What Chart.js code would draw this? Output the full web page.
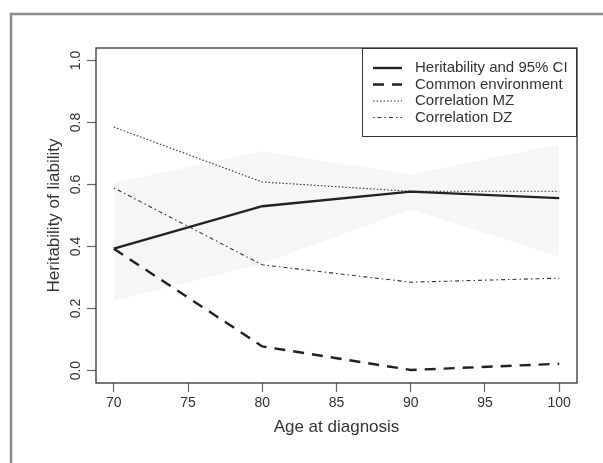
<!DOCTYPE html>
<html>
<head>
<meta charset="utf-8">
<script src="https://cdn.jsdelivr.net/npm/chart.js@4/dist/chart.umd.min.js"></script>
<style>
  body { margin: 0; background: #fff; }
  canvas { display: block; }
</style>
</head>
<body>
<canvas id="chart" width="603" height="463"></canvas>
<script>
// values
const ages = [70, 80, 90, 100];
const heritability = [0.393, 0.530, 0.577, 0.556];
const commonEnv = [0.393, 0.078, 0.002, 0.022];
const corrMZ = [0.785, 0.608, 0.578, 0.578];
const corrDZ = [0.589, 0.341, 0.285, 0.298];
const ciUpper = [0.605, 0.707, 0.632, 0.730];
const ciLower = [0.225, 0.345, 0.519, 0.368];

const xTicks = [70, 75, 80, 85, 90, 95, 100];
const yTicks = [0.0, 0.2, 0.4, 0.6, 0.8, 1.0];

const FONT = "'Liberation Sans', Arial, Helvetica, sans-serif";

function pts(ys) {
  return ages.map((a, i) => ({ x: a, y: ys[i] }));
}

const lineBase = { pointRadius: 0, tension: 0, fill: false };

// gray frame + plot box + rotated y labels + legend
const decor = {
  id: "decor",
  beforeDraw(chart) {
    const c = chart.ctx;
    c.save();
    c.strokeStyle = "#8c8c8c";
    c.lineWidth = 2.5;
    c.beginPath();
    c.moveTo(11, 463);
    c.lineTo(11, 14);
    c.lineTo(603, 14);
    c.stroke();
    c.restore();
  },
  afterDraw(chart) {
    const c = chart.ctx;
    const a = chart.chartArea;
    c.save();
    c.strokeStyle = "#333";
    c.lineWidth = 1.3;
    c.strokeRect(a.left, a.top, a.right - a.left, a.bottom - a.top);

    // y tick labels, R style (rotated)
    const ys = chart.scales.y;
    c.fillStyle = "#333";
    c.font = "14px " + FONT;
    c.textAlign = "center";
    c.textBaseline = "middle";
    yTicks.forEach(v => {
      const py = ys.getPixelForValue(v);
      c.save();
      c.translate(76, py);
      c.rotate(-Math.PI / 2);
      c.fillText(v.toFixed(1), 0, 0);
      c.restore();
    });

    // legend
    const bw = 215, bh = 89;
    const bx = a.right - bw, by = a.top;
    c.fillStyle = "#fff";
    c.fillRect(bx, by, bw, bh);
    c.strokeStyle = "#333";
    c.lineWidth = 1;
    c.strokeRect(bx + 0.5, by + 0.5, bw - 1, bh - 1);
    c.font = "15px " + FONT;
    c.textAlign = "left";
    const items = chart.data.datasets.filter(d => !d.band);
    items.forEach((d, i) => {
      const ly = by + 20 + i * 16.5;
      c.save();
      c.strokeStyle = d.borderColor;
      c.lineWidth = d.borderWidth;
      c.setLineDash(d.borderDash || []);
      c.beginPath();
      c.moveTo(bx + 11, ly);
      c.lineTo(bx + 40, ly);
      c.stroke();
      c.restore();
      c.fillStyle = "#333";
      c.fillText(d.label, bx + 53, ly);
    });
    c.restore();
  }
};

new Chart(document.getElementById("chart"), {
  type: "line",
  data: {
    datasets: [
      { ...lineBase, label: "Heritability and 95% CI", data: pts(heritability),
        borderColor: "#222", borderWidth: 2.4 },
      { ...lineBase, label: "Common environment", data: pts(commonEnv),
        borderColor: "#222", borderWidth: 2.4, borderDash: [11, 8] },
      { ...lineBase, label: "Correlation MZ", data: pts(corrMZ),
        borderColor: "#333", borderWidth: 1.1, borderDash: [1.5, 2] },
      { ...lineBase, label: "Correlation DZ", data: pts(corrDZ),
        borderColor: "#333", borderWidth: 1.1, borderDash: [1.5, 3, 4, 3] },
      { ...lineBase, band: true, label: "ci upper", data: pts(ciUpper),
        borderWidth: 0, borderColor: "rgba(0,0,0,0)", backgroundColor: "#f6f6f6", fill: "+1" },
      { ...lineBase, band: true, label: "ci lower", data: pts(ciLower),
        borderWidth: 0, borderColor: "rgba(0,0,0,0)" }
    ]
  },
  options: {
    responsive: false,
    animation: false,
    layout: { padding: { top: 48, right: 26, left: 0, bottom: 0 } },
    plugins: { legend: { display: false }, tooltip: { enabled: false } },
    scales: {
      x: {
        type: "linear",
        min: 68.8,
        max: 101.2,
        afterBuildTicks: s => { s.ticks = xTicks.map(v => ({ value: v })); },
        afterFit: s => { s.height = 80; },
        grid: { display: true, drawOnChartArea: false, drawTicks: true, tickLength: 9, tickColor: "#666", tickWidth: 1.2 },
        border: { display: false },
        ticks: { color: "#333", font: { family: FONT, size: 14 }, padding: 3, maxRotation: 0, autoSkip: false },
        title: { display: true, text: "Age at diagnosis", color: "#333",
          font: { family: FONT, size: 17 }, padding: { top: 0, bottom: 25 } }
      },
      y: {
        min: -0.04,
        max: 1.04,
        afterBuildTicks: s => { s.ticks = yTicks.map(v => ({ value: v })); },
        afterFit: s => { s.width = 96; },
        grid: { display: true, drawOnChartArea: false, drawTicks: true, tickLength: 9, tickColor: "#666", tickWidth: 1.2 },
        border: { display: false },
        ticks: { display: false },
        title: { display: true, text: "Heritability of liability", color: "#333",
          font: { family: FONT, size: 17 }, padding: { top: 44, bottom: 0 } }
      }
    }
  },
  plugins: [decor]
});
</script>
</body>
</html>
